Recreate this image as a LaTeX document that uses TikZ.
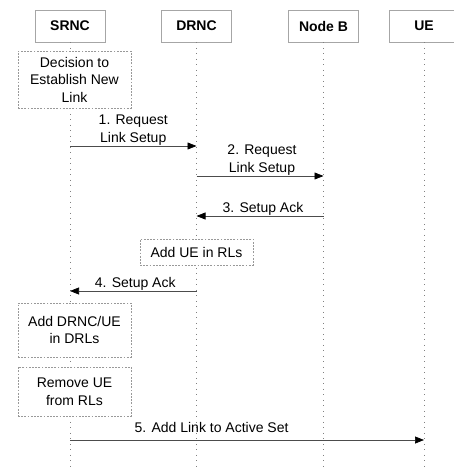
\documentclass[tikz,border=0pt]{standalone}
\usepackage{fontspec}
\setmainfont{Liberation Sans}
\usetikzlibrary{arrows.meta}
\tikzset{
  head/.style={draw=gray!70, line width=0.8pt, fill=white, minimum width=70pt, minimum height=32pt, font=\fontsize{14}{17.5}\selectfont\bfseries},
  life/.style={draw=gray, line width=0.7pt, dash pattern=on 0.7pt off 4.8pt},
  note/.style={draw=gray!80, line width=0.6pt, dash pattern=on 1.8pt off 1.4pt, fill=white, align=center, inner sep=0pt, font=\fontsize{14}{17.5}\selectfont},
  msg/.style={draw=gray!60!black, line width=0.7pt, -{Triangle[length=9pt,width=7pt,color=black]}},
  lbl/.style={align=center, inner sep=0.5pt, font=\fontsize{14}{17.5}\selectfont}
}
\begin{document}
\begin{tikzpicture}
    \useasboundingbox (0pt,0pt) rectangle (453pt,-469pt);
    \node[head] (srnc) at (70pt,-26pt) {SRNC};
    \node[head] (drnc) at (196.5pt,-26pt) {DRNC};
    \node[head] (nodeb) at (323.5pt,-26pt) {Node B};
    \node[head] (ue) at (424pt,-26pt) {UE};
    \coordinate (bot) at (0pt,-469pt);
    \draw[life] (srnc.south) -- (srnc |- bot);
    \draw[life] (drnc.south) -- (drnc |- bot);
    \draw[life] (nodeb.south) -- (nodeb |- bot);
    \draw[life] (ue.south) -- (ue |- bot);
    \node[note, minimum width=113pt, minimum height=57pt] (decide) at (74.5pt,-79.5pt) {Decision to\\Establish New\\Link};
    \node[note, minimum width=113pt, minimum height=26pt] (adduerl) at (196.5pt,-252pt) {Add UE in RLs};
    \node[note, minimum width=113pt, minimum height=54pt] (adddrl) at (74.5pt,-330pt) {Add DRNC/UE\\in DRLs};
    \node[note, minimum width=113pt, minimum height=49pt] (removerl) at (74.5pt,-391.5pt) {Remove UE\\from RLs};
    \coordinate (m1) at (0pt,-146pt);
    \coordinate (m2) at (0pt,-176pt);
    \coordinate (m3) at (0pt,-216pt);
    \coordinate (m4) at (0pt,-291pt);
    \coordinate (m5) at (0pt,-440pt);
    \draw[msg] (srnc |- m1) -- node[lbl, above] {1. Request\\Link Setup} (drnc |- m1);
    \draw[msg] (drnc |- m2) -- node[lbl, above, xshift=2pt] {2. Request\\Link Setup} (nodeb |- m2);
    \draw[msg] (nodeb |- m3) -- node[lbl, above, xshift=3pt] {3. Setup Ack} (drnc |- m3);
    \draw[msg] (drnc |- m4) -- node[lbl, above, xshift=2pt] {4. Setup Ack} (srnc |- m4);
    \draw[msg] (srnc |- m5) -- node[lbl, above, pos=0.4, yshift=7pt] {5. Add Link to Active Set} (ue |- m5);
\end{tikzpicture}
\end{document}
